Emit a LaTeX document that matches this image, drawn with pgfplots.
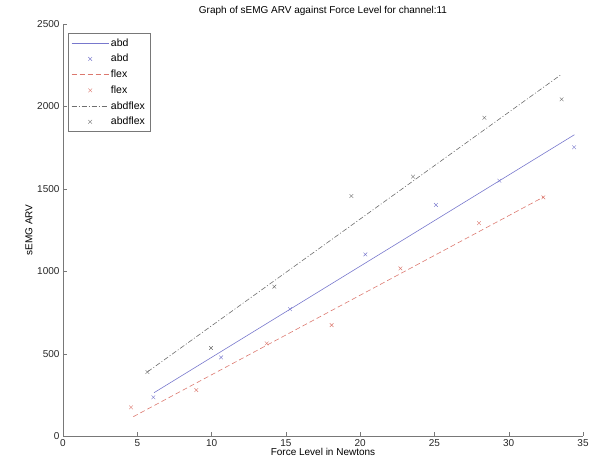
\documentclass[border=0pt]{standalone}
\usepackage{fontspec}
\setmainfont{Liberation Sans}
\usepackage{pgfplots}
\pgfplotsset{compat=1.18}
\usetikzlibrary{calc}

\definecolor{abdc}{RGB}{120,120,205}
\definecolor{flexc}{RGB}{220,120,110}
\definecolor{afc}{RGB}{110,110,110}
\definecolor{axc}{RGB}{120,120,120}

\begin{document}
\begin{tikzpicture}
\begin{axis}[
  name=ax,
  scale only axis,
  width=520pt, height=412pt,
  xmin=0, xmax=35, ymin=0, ymax=2500,
  xtick={0,5,...,35}, ytick={0,500,...,2500},
  axis x line*=bottom, axis y line*=left,
  axis line style={axc, -},
  tick align=inside,
  major tick length=4pt,
  tick style={axc},
  tick label style={font=\fontsize{10}{11}\selectfont, text=black!85},
  /pgf/number format/assume math mode=true,
  /pgf/number format/1000 sep={},
  title={Graph of sEMG ARV against Force Level for channel:11},
  title style={font=\fontsize{10}{11}\selectfont, yshift=-1pt},
  xlabel={Force Level in Newtons},
  ylabel={sEMG ARV},
  label style={font=\fontsize{10}{11}\selectfont},
  xlabel style={yshift=5pt},
  ylabel style={yshift=-2pt},
  legend style={font=\fontsize{10.5}{12}\selectfont, draw=axc, at={(0.01,0.977)}, anchor=north west,
    row sep=2.6pt, inner sep=3pt},
  legend cell align=left,
  legend image code/.code={\draw[mark repeat=2,mark phase=2,#1] plot coordinates {(0cm,0cm) (0.65cm,0cm) (1.3cm,0cm)};},
  clip=false,
]
% abd fit
\addlegendimage{draw=abdc, semithick}
\addlegendentry{abd}
\addplot[only marks, mark=x, mark size=2.6pt, abdc, forget plot] coordinates {
  (6.08,235) (10.64,477) (15.28,770) (20.35,1102) (25.1,1402) (29.37,1549) (34.4,1752)};
\addlegendimage{only marks, mark=x, mark size=2.6pt, abdc}
\addlegendentry{abd}
\addplot[draw=abdc, semithick, forget plot] coordinates {(6.13,263) (34.42,1828)};
% flex fit
\addplot[draw=flexc, semithick, dash pattern=on 5pt off 3pt] coordinates {(4.73,117) (32.38,1452)};
\addlegendentry{flex}
\addplot[only marks, mark=x, mark size=2.6pt, flexc] coordinates {
  (4.58,174) (8.97,279) (13.71,562) (18.08,673) (22.71,1017) (28.0,1292) (32.33,1448)};
\addlegendentry{flex}
% abdflex fit
\addplot[draw=afc, semithick, dash pattern=on 5pt off 2pt on 1pt off 2pt] coordinates {(5.7,390) (33.56,2195)};
\addlegendentry{abdflex}
\addplot[only marks, mark=x, mark size=2.6pt, afc] coordinates {
  (5.68,388) (9.96,534) (14.22,906) (19.41,1456) (23.56,1574) (28.36,1931) (33.56,2043)};
\addlegendentry{abdflex}
\end{axis}
\path[use as bounding box] ($(ax.south west)+(-63pt,-33pt)$) rectangle ($(ax.north east)+(9pt,24pt)$);
\end{tikzpicture}
\end{document}
